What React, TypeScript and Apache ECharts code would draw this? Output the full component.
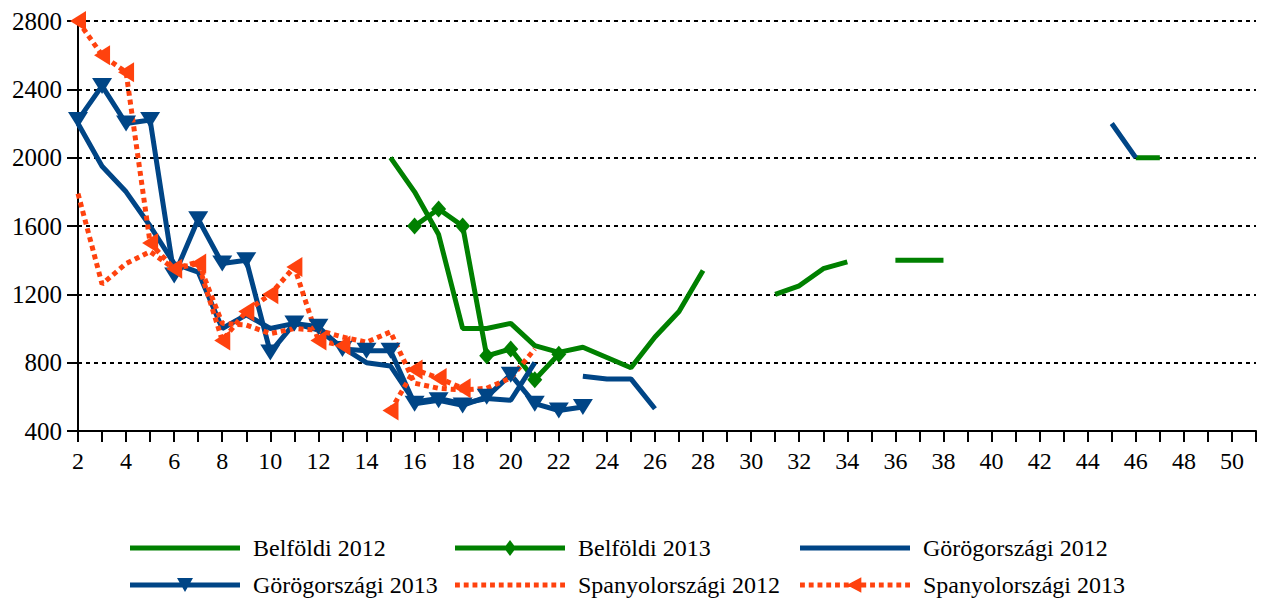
import React, { useEffect, useRef } from "react";
import * as echarts from "echarts";

const weeks = [
  "2", "3", "4", "5", "6", "7", "8", "9", "10", "11", "12", "13", "14", "15", "16", "17",
  "18", "19", "20", "21", "22", "23", "24", "25", "26", "27", "28", "29", "30", "31", "32", "33",
  "34", "35", "36", "37", "38", "39", "40", "41", "42", "43", "44", "45", "46", "47", "48", "49",
  "50", "51",
];

const yTicks = [400, 800, 1200, 1600, 2000, 2400, 2800];

const _ = null;

// index 0 = week 2
const belfoldi2012 = [
  _, _, _, _, _, _, _, _, _, _, _, _, _, 2000, 1800, 1550, 1000, 1000, 1030, 900, 860, 890, 830,
  770, 950, 1100, 1340, _, _, 1200, 1250, 1350, 1390, _, 1400, 1400, 1400, _, _, _, _, _, _, _,
  2000, 2000, _, _, _, _,
];

const belfoldi2013 = [
  _, _, _, _, _, _, _, _, _, _, _, _, _, _, 1600, 1700, 1600, 840, 880, 700, 850, _, _, _, _, _,
  _, _, _, _, _, _, _, _, _, _, _, _, _, _, _, _, _, _, _, _, _, _, _, _,
];

const gorog2012 = [
  2200, 1950, 1800, 1600, 1380, 1330, 1000, 1080, 1000, 1030, 990, 890, 800, 780, 570, 590, 560,
  590, 580, 800, _, 720, 705, 705, 530, _, _, _, _, _, _, _, _, _, _, _, _, _, _, _, _, _, _,
  2200, 2000, _, _, _, _, _,
];

const gorog2013 = [
  2220, 2420, 2200, 2220, 1310, 1640, 1380, 1400, 860, 1030, 1010, 880, 870, 870, 560, 580, 550,
  600, 730, 560, 520, 540, _, _, _, _, _, _, _, _, _, _, _, _, _, _, _, _, _, _, _, _, _, _, _,
  _, _, _, _, _,
];

const spanyol2012 = [
  1790, 1260, 1380, 1450, 1350, 1390, 1030, 1020, 970, 1000, 990, 950, 920, 980, 680, 650, 640,
  650, 710, 880, _, _, _, _, _, _, _, _, _, _, _, _, _, _, _, _, _, _, _, _, _, _, _, _, _, _,
  _, _, _, _,
];

const spanyol2013 = [
  2800, 2600, 2500, 1500, 1350, 1380, 930, 1100, 1200, 1360, 930, 900, _, 520, 760, 710, 650, _,
  _, _, _, _, _, _, _, _, _, _, _, _, _, _, _, _, _, _, _, _, _, _, _, _, _, _, _, _, _, _, _, _,
];

const seriesNames = [
  "Belföldi 2012",
  "Belföldi 2013",
  "Görögországi 2012",
  "Görögországi 2013",
  "Spanyolországi 2012",
  "Spanyolországi 2013",
];

const GREEN = "#008000";
const BLUE = "#004586";
const ORANGE = "#ff420e";
const FONT = "Liberation Serif";

// legend icon shapes (bounding box 110 x 16, bar in the middle)
const solidBar = "M0,5.5H110V10.5H0Z";
const dottedBar = (() => {
  let d = "";
  for (let x = 0; x < 110; x += 9) d += `M${x},5.5h5v5h-5Z`;
  return d;
})();
const frame = "M0,0h0.01v0.01h-0.01Z M109.99,15.99h0.01v0.01h-0.01Z";
const iconSolid = "path://" + solidBar + frame;
const iconDotted = "path://" + dottedBar + frame;
const iconDiamond = "path://" + solidBar + "M55,0L61,8L55,16L49,8Z" + frame;
const iconTriDown = "path://" + solidBar + "M47,1H63L55,15Z" + frame;
const iconTriLeft = "path://" + dottedBar + "M63,0V16L48,8Z" + frame;
const legendIcons = [iconSolid, iconDiamond, iconSolid, iconTriDown, iconDotted, iconTriLeft];

export default function App() {
  const ref = useRef<HTMLDivElement>(null);

  useEffect(() => {
    if (!ref.current) return;
    const chart = echarts.init(ref.current, undefined, { renderer: "svg" });

    const legendPos = [
      { left: 130, top: 536 },
      { left: 455, top: 536 },
      { left: 800, top: 536 },
      { left: 130, top: 573 },
      { left: 455, top: 573 },
      { left: 800, top: 573 },
    ];

    const legends = seriesNames.map((n, i) => ({
      data: [{ name: n, icon: legendIcons[i] }],
      left: legendPos[i].left,
      top: legendPos[i].top,
      orient: "horizontal",
      itemWidth: 110,
      itemHeight: 16,
      padding: 0,
      selectedMode: false,
      textStyle: {
        fontFamily: FONT,
        fontSize: 24,
        color: "#000",
        padding: [0, 0, 0, 8],
      },
    }));

    const lineSeries = (
      name: string,
      data: (number | null)[],
      color: string,
      dotted: boolean,
      symbol: string,
      symbolSize: number | number[],
      symbolRotate = 0
    ) => ({
      name,
      type: "line",
      data,
      connectNulls: false,
      showSymbol: symbol !== "none",
      showAllSymbol: true,
      symbol,
      symbolSize,
      symbolRotate,
      lineStyle: {
        color,
        width: 5,
        type: dotted ? [5, 4] : "solid",
        cap: "butt",
      },
      itemStyle: { color, borderWidth: 0 },
      emphasis: { disabled: true },
      z: 2,
    });

    chart.setOption({
      animation: false,
      backgroundColor: "#fff",
      textStyle: { fontFamily: FONT },
      legend: legends,
      grid: { left: 78, right: 8, top: 21, bottom: 169, containLabel: false },
      xAxis: {
        type: "category",
        data: weeks,
        boundaryGap: false,
        axisLine: { lineStyle: { color: "#000", width: 2 } },
        axisTick: {
          show: true,
          interval: 0,
          length: 11,
          lineStyle: { color: "#000", width: 2 },
        },
        axisLabel: {
          interval: 1,
          margin: 18,
          color: "#000",
          fontFamily: FONT,
          fontSize: 24,
        },
        splitLine: { show: false },
      },
      yAxis: {
        type: "value",
        min: yTicks[0],
        max: yTicks[yTicks.length - 1],
        interval: 400,
        axisLine: { show: true, lineStyle: { color: "#000", width: 2 } },
        axisTick: { show: true, length: 11, lineStyle: { color: "#000", width: 2 } },
        axisLabel: {
          margin: 16,
          color: "#000",
          fontFamily: FONT,
          fontSize: 25,
          formatter: (v: number) => String(v),
        },
        splitLine: {
          show: true,
          lineStyle: { color: "#000", width: 2, type: [4, 4] },
        },
      },
      series: [
        lineSeries(seriesNames[0], belfoldi2012, GREEN, false, "none", 0),
        lineSeries(seriesNames[1], belfoldi2013, GREEN, false, "diamond", [15, 17]),
        lineSeries(seriesNames[2], gorog2012, BLUE, false, "none", 0),
        lineSeries(seriesNames[3], gorog2013, BLUE, false, "triangle", [20, 16], 180),
        lineSeries(seriesNames[4], spanyol2012, ORANGE, true, "none", 0),
        lineSeries(seriesNames[5], spanyol2013, ORANGE, true, "triangle", [20, 16], 90),
      ],
    });

    return () => chart.dispose();
  }, []);

  return (
    <div
      ref={ref}
      style={{ position: "absolute", left: 0, top: 0, width: 1264, height: 600, background: "#fff" }}
    />
  );
}
